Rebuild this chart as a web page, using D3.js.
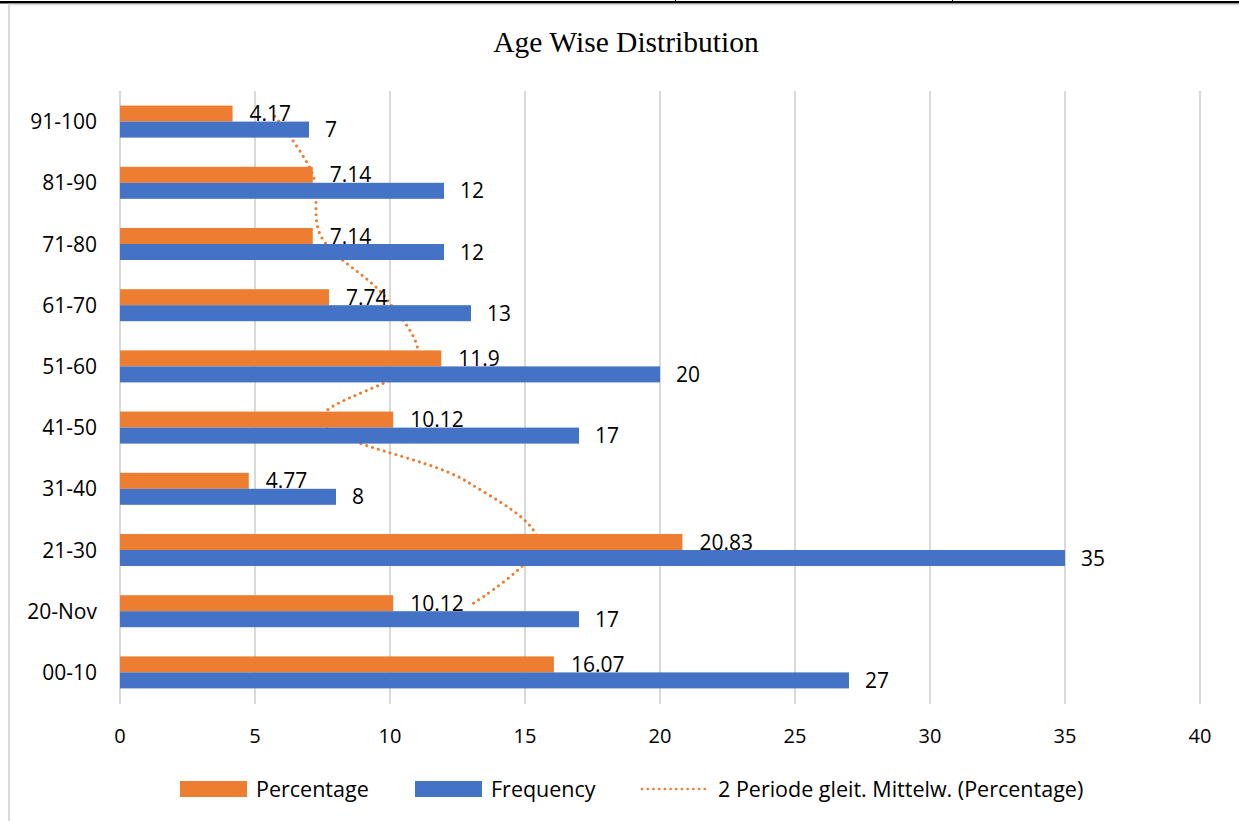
<!DOCTYPE html>
<html>
<head>
<meta charset="utf-8">
<script src="https://cdn.jsdelivr.net/npm/d3@7"></script>
<style>
  html, body { margin: 0; padding: 0; background: #fff; }
  svg { display: block; }
</style>
</head>
<body>
<svg id="chart" width="1239" height="821"></svg>
<script>
// Age groups, bottom to top as listed in the axis
const categories = ["00-10", "20-Nov", "21-30", "31-40", "41-50", "51-60", "61-70", "71-80", "81-90", "91-100"];
const frequency  = [27, 17, 35, 8, 17, 20, 13, 12, 12, 7];
const percentage = [16.07, 10.12, 20.83, 4.77, 10.12, 11.9, 7.74, 7.14, 7.14, 4.17];
const xTicks = [0, 5, 10, 15, 20, 25, 30, 35, 40];
const seriesNames = ["Percentage", "Frequency", "2 Periode gleit. Mittelw. (Percentage)"];

const ORANGE = "#ED7D31", BLUE = "#4472C4", GRID = "#D9D9D9";
const FONT = "'Open Sans', sans-serif";

const svg = d3.select("#chart");

// Page frame: black rule on top, light grey chart border
svg.append("rect").attr("x", 0).attr("y", 1).attr("width", 1239).attr("height", 2.5).attr("fill", "#000");
svg.append("line").attr("x1", 675.5).attr("x2", 675.5).attr("y1", 0).attr("y2", 2).attr("stroke", "#000");
svg.append("line").attr("x1", 952.5).attr("x2", 952.5).attr("y1", 0).attr("y2", 2).attr("stroke", "#000");
svg.append("line").attr("x1", 8).attr("x2", 1239).attr("y1", 4.5).attr("y2", 4.5).attr("stroke", GRID).attr("stroke-width", 1.5);
svg.append("line").attr("x1", 9).attr("x2", 9).attr("y1", 4).attr("y2", 821).attr("stroke", GRID).attr("stroke-width", 2);

// Title
svg.append("text")
  .attr("x", 626).attr("y", 52)
  .attr("text-anchor", "middle")
  .attr("font-family", "'Liberation Serif', 'Times New Roman', serif")
  .attr("font-size", 29.5)
  .attr("fill", "#000")
  .text("Age Wise Distribution");

const plot = { left: 120, right: 1200, top: 91, bottom: 703 };

const x = d3.scaleLinear().domain([0, 40]).range([plot.left, plot.right]);

const y = d3.scaleBand()
  .domain(categories.slice().reverse())
  .range([plot.top, plot.bottom])
  .paddingInner(0.477)
  .paddingOuter(0.2385);

const yInner = d3.scaleBand()
  .domain(["Percentage", "Frequency"])
  .range([0, y.bandwidth()]);

// Vertical gridlines
svg.append("g")
  .selectAll("line")
  .data(xTicks)
  .join("line")
  .attr("x1", d => x(d)).attr("x2", d => x(d))
  .attr("y1", plot.top).attr("y2", plot.bottom + 1)
  .attr("stroke", GRID).attr("stroke-width", 2);

// X tick labels
svg.append("g")
  .selectAll("text")
  .data(xTicks)
  .join("text")
  .attr("x", d => x(d)).attr("y", 743)
  .attr("text-anchor", "middle")
  .attr("font-family", FONT).attr("font-size", 20)
  .attr("fill", "#000")
  .text(d => d);

// Category labels
svg.append("g")
  .selectAll("text")
  .data(categories)
  .join("text")
  .attr("x", 97)
  .attr("y", d => y(d) + y.bandwidth() / 2)
  .attr("dy", "0.36em")
  .attr("text-anchor", "end")
  .attr("font-family", FONT).attr("font-size", 21)
  .attr("fill", "#000")
  .text(d => d);

const rows = categories.map((c, i) => ({ c, pct: percentage[i], freq: frequency[i] }));

// Two-period moving average of the percentage series (drawn beneath the bars)
const movAvg = [];
for (let i = 1; i < percentage.length; i++) {
  movAvg.push({ c: categories[i], v: (percentage[i - 1] + percentage[i]) / 2 });
}
const line = d3.line()
  .x(d => x(d.v))
  .y(d => y(d.c) + yInner("Percentage") + yInner.bandwidth() / 2)
  .curve(d3.curveCatmullRom.alpha(0.5));
svg.append("path")
  .datum(movAvg)
  .attr("d", line)
  .attr("fill", "none")
  .attr("stroke", ORANGE)
  .attr("stroke-width", 3)
  .attr("stroke-linecap", "round")
  .attr("stroke-dasharray", "0.1 6");

// Bars
const bars = svg.append("g");
bars.selectAll("rect.pct")
  .data(rows).join("rect").attr("class", "pct")
  .attr("x", x(0))
  .attr("y", d => y(d.c) + yInner("Percentage"))
  .attr("width", d => x(d.pct) - x(0))
  .attr("height", yInner.bandwidth())
  .attr("fill", ORANGE);
bars.selectAll("rect.freq")
  .data(rows).join("rect").attr("class", "freq")
  .attr("x", x(0))
  .attr("y", d => y(d.c) + yInner("Frequency"))
  .attr("width", d => x(d.freq) - x(0))
  .attr("height", yInner.bandwidth())
  .attr("fill", BLUE);

// Data labels
const labels = svg.append("g")
  .attr("font-family", FONT).attr("font-size", 21).attr("fill", "#000");
labels.selectAll("text.pct")
  .data(rows).join("text").attr("class", "pct")
  .attr("x", d => x(d.pct) + 17)
  .attr("y", d => y(d.c) + yInner("Percentage") + yInner.bandwidth() / 2)
  .attr("dy", "0.36em")
  .text(d => d.pct);
labels.selectAll("text.freq")
  .data(rows).join("text").attr("class", "freq")
  .attr("x", d => x(d.freq) + 16)
  .attr("y", d => y(d.c) + yInner("Frequency") + yInner.bandwidth() / 2)
  .attr("dy", "0.36em")
  .text(d => d.freq);

// Legend
const legend = svg.append("g").attr("font-family", FONT).attr("font-size", 21.5).attr("fill", "#000");
const legendX = [180, 415, 640];
legend.append("rect").attr("x", legendX[0]).attr("y", 781).attr("width", 67).attr("height", 16).attr("fill", ORANGE);
legend.append("rect").attr("x", legendX[1]).attr("y", 781).attr("width", 67).attr("height", 16).attr("fill", BLUE);
legend.append("line").attr("x1", legendX[2] + 2).attr("x2", legendX[2] + 68)
  .attr("y1", 789).attr("y2", 789)
  .attr("stroke", ORANGE).attr("stroke-width", 2.6)
  .attr("stroke-linecap", "round").attr("stroke-dasharray", "0.1 5.6");
seriesNames.forEach((name, i) => {
  legend.append("text")
    .attr("x", legendX[i] + (i === 2 ? 78 : 76))
    .attr("y", 789).attr("dy", "0.36em")
    .text(name);
});
</script>
</body>
</html>
